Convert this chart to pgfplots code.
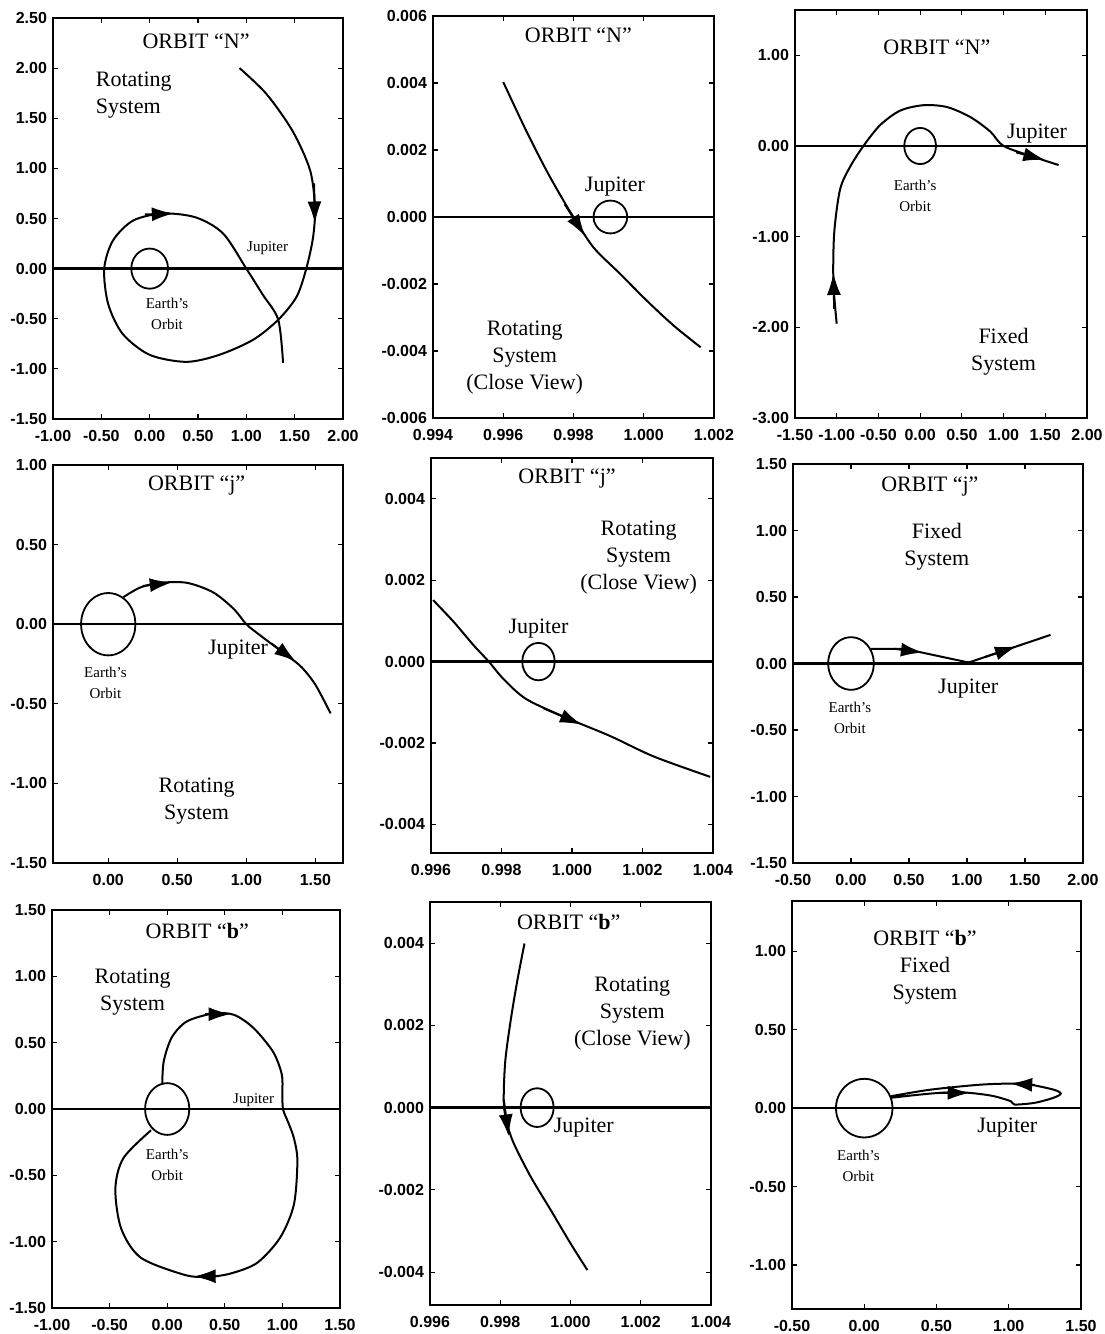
\documentclass[border=0pt]{standalone}
\usepackage{fontspec}
\setmainfont{Liberation Serif}
\setsansfont{Liberation Sans}
\usepackage{pgfplots}
\pgfplotsset{compat=1.18}
\usepackage{pgfplotstable}
\usetikzlibrary{arrows.meta}

% unit circle (cos, sin every 15 degrees)
\pgfplotstableread{
c s
1 0
0.9659 0.2588
0.8660 0.5
0.7071 0.7071
0.5 0.8660
0.2588 0.9659
0 1
-0.2588 0.9659
-0.5 0.8660
-0.7071 0.7071
-0.8660 0.5
-0.9659 0.2588
-1 0
-0.9659 -0.2588
-0.8660 -0.5
-0.7071 -0.7071
-0.5 -0.8660
-0.2588 -0.9659
0 -1
0.2588 -0.9659
0.5 -0.8660
0.7071 -0.7071
0.8660 -0.5
0.9659 -0.2588
1 0
}\unitcircle

\newcommand{\tfont}{\fontsize{11}{13.5}\selectfont}
\newcommand{\sfont}{\fontsize{7.5}{10.5}\selectfont}

\tikzset{
  lab/.style={font=\tfont, align=center, inner sep=0pt},
  slab/.style={font=\sfont, align=center, inner sep=0pt},
}
\pgfplotsset{
  panel/.style={scale only axis, anchor=north west,
    scaled x ticks=false, scaled y ticks=false,
    axis line style={line width=1.1pt},
    tick align=inside, major tick length=2.5pt,
    tick style={black, line width=0.6pt},
    ticklabel style={font=\sffamily\bfseries\fontsize{8}{9.5}\selectfont},
    xticklabel style={yshift=-2pt},
    yticklabel style={xshift=0.5pt},
  },
  traj/.style={black, line width=1pt, smooth, mark=none},
  seg/.style={black, line width=1pt, mark=none},
  arr/.style={black, line width=1pt, mark=none, -{Latex[length=11pt,width=7pt]}},
  zero/.style={black, line width=1.2pt, mark=none},
  ring/.style={black, line width=0.9pt, smooth, mark=none},
}

\begin{document}
\begin{tikzpicture}
\useasboundingbox (0,0) rectangle (552pt,-667pt);

% ---------------- Panel 1 ----------------
\begin{axis}[panel, at={(26.5pt,-9pt)}, width=145pt, height=200.5pt,
  xmin=-1, xmax=2, ymin=-1.5, ymax=2.5,
  xtick={-1,-0.5,0,0.5,1,1.5,2}, xticklabels={-1.00,-0.50,0.00,0.50,1.00,1.50,2.00},
  ytick={-1.5,-1,-0.5,0,0.5,1,1.5,2,2.5}, yticklabels={-1.50,-1.00,-0.50,0.00,0.50,1.00,1.50,2.00,2.50}]
\addplot[zero] coordinates {(-1,0) (2,0)};
\addplot[ring] table[x expr={0.19*\thisrow{c}}, y expr={0.2*\thisrow{s}}] {\unitcircle};
\addplot[traj] coordinates {(0.93,2.00) (1.21,1.74) (1.48,1.37) (1.66,0.98) (1.71,0.61) (1.69,0.31) (1.62,0) (1.52,-0.28) (1.33,-0.51) (1.07,-0.71) (0.72,-0.86) (0.38,-0.93) (0.0,-0.86) (-0.28,-0.65) (-0.43,-0.35) (-0.47,0) (-0.38,0.28) (-0.17,0.48) (0.14,0.55) (0.48,0.51) (0.76,0.35) (1.0,0) (1.17,-0.26) (1.33,-0.51) (1.38,-0.94)};
\addplot[arr] coordinates {(1.70,0.85) (1.71,0.45)};
\addplot[arr] coordinates {(-0.05,0.54) (0.25,0.55)};
\node[lab] at (axis cs:0.48,2.27) {ORBIT ``N''};
\node[lab, anchor=west, align=left] at (axis cs:-0.56,1.73) {Rotating\\System};
\node[slab] at (axis cs:1.22,0.20) {Jupiter};
\node[slab] at (axis cs:0.18,-0.45) {Earth's\\Orbit};
\end{axis}

% ---------------- Panel 2 ----------------
\begin{axis}[panel, at={(216.5pt,-8pt)}, width=140.5pt, height=201pt,
  xmin=0.994, xmax=1.002, ymin=-0.006, ymax=0.006,
  xtick={0.994,0.996,0.998,1.000,1.002}, xticklabels={0.994,0.996,0.998,1.000,1.002},
  ytick={-0.006,-0.004,-0.002,0,0.002,0.004,0.006}, yticklabels={-0.006,-0.004,-0.002,0.000,0.002,0.004,0.006}]
\addplot[zero] coordinates {(0.994,0) (1.002,0)};
\addplot[ring] table[x expr={0.99905+0.00048*\thisrow{c}}, y expr={0.00049*\thisrow{s}}] {\unitcircle};
\addplot[traj] coordinates {(0.996,0.00403) (0.99666,0.00256) (0.99724,0.00137) (0.99772,0.00048) (0.998,0.0) (0.99857,-0.00091) (0.99933,-0.0017) (1.00009,-0.0025) (1.00085,-0.00324) (1.00162,-0.00389)};
\addplot[arr] coordinates {(0.99775,0.00038) (0.99833,-0.00057)};
\node[lab] at (axis cs:0.99814,0.00543) {ORBIT ``N''};
\node[lab] at (axis cs:0.99918,0.00092) {Jupiter};
\node[lab] at (axis cs:0.99661,-0.0042) {Rotating\\System\\(Close View)};
\end{axis}

% ---------------- Panel 3 ----------------
\begin{axis}[panel, at={(397.5pt,-5pt)}, width=146pt, height=204pt,
  xmin=-1.5, xmax=2, ymin=-3, ymax=1.5,
  xtick={-1.5,-1,-0.5,0,0.5,1,1.5,2}, xticklabels={-1.50,-1.00,-0.50,0.00,0.50,1.00,1.50,2.00},
  ytick={-3,-2,-1,0,1}, yticklabels={-3.00,-2.00,-1.00,0.00,1.00}]
\addplot[zero] coordinates {(-1.5,0) (2,0)};
\addplot[ring] table[x expr={0.19*\thisrow{c}}, y expr={0.2*\thisrow{s}}] {\unitcircle};
\addplot[traj] coordinates {(-1.0,-1.96) (-1.04,-1.50) (-1.03,-0.96) (-0.96,-0.48) (-0.84,-0.23) (-0.68,0) (-0.48,0.23) (-0.24,0.39) (0.04,0.45) (0.32,0.43) (0.6,0.32) (0.84,0.16) (1.0,0) (1.36,-0.12) (1.66,-0.21)};
\addplot[arr] coordinates {(-1.03,-1.80) (-1.04,-1.40)};
\addplot[arr] coordinates {(1.15,-0.07) (1.5,-0.155)};
\node[lab] at (axis cs:0.2,1.09) {ORBIT ``N''};
\node[lab] at (axis cs:1.4,0.14) {Jupiter};
\node[slab] at (axis cs:-0.06,-0.55) {Earth's\\Orbit};
\node[lab] at (axis cs:1.0,-2.27) {Fixed\\System};
\end{axis}

% ---------------- Panel 4 ----------------
\begin{axis}[panel, at={(26.5pt,-232.5pt)}, width=145pt, height=199pt,
  xmin=-0.4, xmax=1.7, ymin=-1.5, ymax=1.0,
  xtick={0,0.5,1,1.5}, xticklabels={0.00,0.50,1.00,1.50},
  ytick={-1.5,-1,-0.5,0,0.5,1}, yticklabels={-1.50,-1.00,-0.50,0.00,0.50,1.00}]
\addplot[zero] coordinates {(-0.4,0) (1.7,0)};
\addplot[ring] table[x expr={0.197*\thisrow{c}}, y expr={0.196*\thisrow{s}}] {\unitcircle};
\addplot[traj] coordinates {(0.11,0.17) (0.23,0.23) (0.375,0.26) (0.57,0.26) (0.76,0.20) (0.91,0.095) (1.0,0) (1.1,-0.07) (1.2,-0.135) (1.3,-0.2) (1.4,-0.27) (1.5,-0.38) (1.61,-0.56)};
\addplot[arr] coordinates {(0.25,0.24) (0.46,0.262)};
\addplot[arr] coordinates {(1.18,-0.12) (1.36,-0.235)};
\node[lab] at (axis cs:0.64,0.87) {ORBIT ``j''};
\node[lab] at (axis cs:0.94,-0.16) {Jupiter};
\node[slab] at (axis cs:-0.02,-0.37) {Earth's\\Orbit};
\node[lab] at (axis cs:0.64,-1.11) {Rotating\\System};
\end{axis}

% ---------------- Panel 5 ----------------
\begin{axis}[panel, at={(215.5pt,-229pt)}, width=141pt, height=197.5pt,
  xmin=0.996, xmax=1.004, ymin=-0.0047, ymax=0.005,
  xtick={0.996,0.998,1.000,1.002,1.004}, xticklabels={0.996,0.998,1.000,1.002,1.004},
  ytick={-0.004,-0.002,0,0.002,0.004}, yticklabels={-0.004,-0.002,0.000,0.002,0.004}]
\addplot[zero] coordinates {(0.996,0) (1.004,0)};
\addplot[ring] table[x expr={0.99905+0.00046*\thisrow{c}}, y expr={0.00046*\thisrow{s}}] {\unitcircle};
\addplot[traj] coordinates {(0.99606,0.00151) (0.99664,0.00098) (0.99721,0.0004) (0.99764,0) (0.99806,-0.00043) (0.99872,-0.00093) (0.99995,-0.00142) (1.00109,-0.00183) (1.00232,-0.00233) (1.00392,-0.00283)};
\addplot[arr] coordinates {(0.9992,-0.00115) (1.00028,-0.00155)};
\node[lab] at (axis cs:0.99986,0.00449) {ORBIT ``j''};
\node[lab] at (axis cs:0.99905,0.00081) {Jupiter};
\node[lab] at (axis cs:1.00189,0.00255) {Rotating\\System\\(Close View)};
\end{axis}

% ---------------- Panel 6 ----------------
\begin{axis}[panel, at={(396.5pt,-232pt)}, width=145pt, height=199.5pt,
  xmin=-0.5, xmax=2, ymin=-1.5, ymax=1.5,
  xtick={-0.5,0,0.5,1,1.5,2}, xticklabels={-0.50,0.00,0.50,1.00,1.50,2.00},
  ytick={-1.5,-1,-0.5,0,0.5,1,1.5}, yticklabels={-1.50,-1.00,-0.50,0.00,0.50,1.00,1.50}]
\addplot[zero] coordinates {(-0.5,0) (2,0)};
\addplot[ring] table[x expr={0.197*\thisrow{c}}, y expr={0.198*\thisrow{s}}] {\unitcircle};
\addplot[seg] coordinates {(0.17,0.11) (0.45,0.11) (0.56,0.092) (1.0,0.01) (1.03,0.012) (1.72,0.215)};
\addplot[arr] coordinates {(0.38,0.11) (0.62,0.082)};
\addplot[arr] coordinates {(1.15,0.047) (1.43,0.13)};
\node[lab] at (axis cs:0.68,1.33) {ORBIT ``j''};
\node[lab] at (axis cs:0.74,0.877) {Fixed\\System};
\node[lab] at (axis cs:1.01,-0.19) {Jupiter};
\node[slab] at (axis cs:-0.01,-0.41) {Earth's\\Orbit};
\end{axis}

% ---------------- Panel 7 ----------------
\begin{axis}[panel, at={(26pt,-455pt)}, width=144pt, height=199pt,
  xmin=-1, xmax=1.5, ymin=-1.5, ymax=1.5,
  xtick={-1,-0.5,0,0.5,1,1.5}, xticklabels={-1.00,-0.50,0.00,0.50,1.00,1.50},
  ytick={-1.5,-1,-0.5,0,0.5,1,1.5}, yticklabels={-1.50,-1.00,-0.50,0.00,0.50,1.00,1.50}]
\addplot[zero] coordinates {(-1,0) (1.5,0)};
\addplot[ring] table[x expr={0.192*\thisrow{c}}, y expr={0.195*\thisrow{s}}] {\unitcircle};
\addplot[traj] coordinates {(-0.043,0.183) (-0.03,0.36) (0.04,0.54) (0.17,0.66) (0.40,0.72) (0.58,0.71) (0.75,0.61) (0.92,0.43) (0.995,0.26) (1.0,0.12) (1.005,0.0) (1.05,-0.1) (1.10,-0.22) (1.13,-0.39) (1.10,-0.72) (0.98,-0.97) (0.78,-1.16) (0.55,-1.24) (0.35,-1.265) (0.15,-1.25) (-0.23,-1.12) (-0.40,-0.90) (-0.45,-0.60) (-0.38,-0.37) (-0.14,-0.16)};
\addplot[arr] coordinates {(0.33,0.715) (0.55,0.715)};
\addplot[arr] coordinates {(0.45,-1.26) (0.23,-1.262)};
\node[lab] at (axis cs:0.26,1.34) {ORBIT ``\textbf{b}''};
\node[lab] at (axis cs:-0.30,0.88) {Rotating\\System};
\node[slab] at (axis cs:0.75,0.07) {Jupiter};
\node[slab] at (axis cs:0,-0.42) {Earth's\\Orbit};
\end{axis}

% ---------------- Panel 8 ----------------
\begin{axis}[panel, at={(215pt,-451pt)}, width=140.5pt, height=201.5pt,
  xmin=0.996, xmax=1.004, ymin=-0.0048, ymax=0.005,
  xtick={0.996,0.998,1.000,1.002,1.004}, xticklabels={0.996,0.998,1.000,1.002,1.004},
  ytick={-0.004,-0.002,0,0.002,0.004}, yticklabels={-0.004,-0.002,0.000,0.002,0.004}]
\addplot[zero] coordinates {(0.996,0) (1.004,0)};
\addplot[ring] table[x expr={0.99905+0.00047*\thisrow{c}}, y expr={0.00047*\thisrow{s}}] {\unitcircle};
\addplot[traj] coordinates {(0.99869,0.00399) (0.99848,0.00306) (0.99829,0.00208) (0.99814,0.0011) (0.9981,0.00012) (0.99819,-0.00037) (0.99838,-0.00086) (0.99886,-0.00167) (0.99943,-0.00248) (1.0,-0.0033) (1.00048,-0.00395)};
\addplot[arr] coordinates {(0.9981,0.0002) (0.99824,-0.0007)};
\node[lab] at (axis cs:0.99995,0.00452) {ORBIT ``\textbf{b}''};
\node[lab] at (axis cs:1.00176,0.00228) {Rotating\\System\\(Close View)};
\node[lab] at (axis cs:1.00038,-0.00049) {Jupiter};
\end{axis}

% ---------------- Panel 9 ----------------
\begin{axis}[panel, at={(396pt,-450.5pt)}, width=144.5pt, height=204pt,
  xmin=-0.5, xmax=1.5, ymin=-1.28, ymax=1.32,
  xtick={-0.5,0,0.5,1,1.5}, xticklabels={-0.50,0.00,0.50,1.00,1.50},
  ytick={-1,-0.5,0,0.5,1}, yticklabels={-1.00,-0.50,0.00,0.50,1.00}]
\addplot[zero] coordinates {(-0.5,0) (1.5,0)};
\addplot[ring] table[x expr={0.196*\thisrow{c}}, y expr={0.187*\thisrow{s}}] {\unitcircle};
\addplot[traj] coordinates {(0.185,0.066) (0.46,0.093) (0.67,0.101) (0.877,0.080) (1.015,0.044) (1.04,0.023) (1.18,0.034) (1.31,0.066) (1.36,0.093) (1.31,0.118) (1.15,0.150) (1.06,0.157) (0.81,0.150) (0.46,0.118) (0.185,0.076)};
\addplot[arr] coordinates {(0.52,0.098) (0.73,0.097)};
\addplot[arr] coordinates {(1.18,0.148) (1.01,0.157)};
\node[lab] at (axis cs:0.42,0.895) {ORBIT ``\textbf{b}''\\Fixed\\System};
\node[lab] at (axis cs:0.99,-0.125) {Jupiter};
\node[slab] at (axis cs:-0.04,-0.37) {Earth's\\Orbit};
\end{axis}

\end{tikzpicture}
\end{document}
